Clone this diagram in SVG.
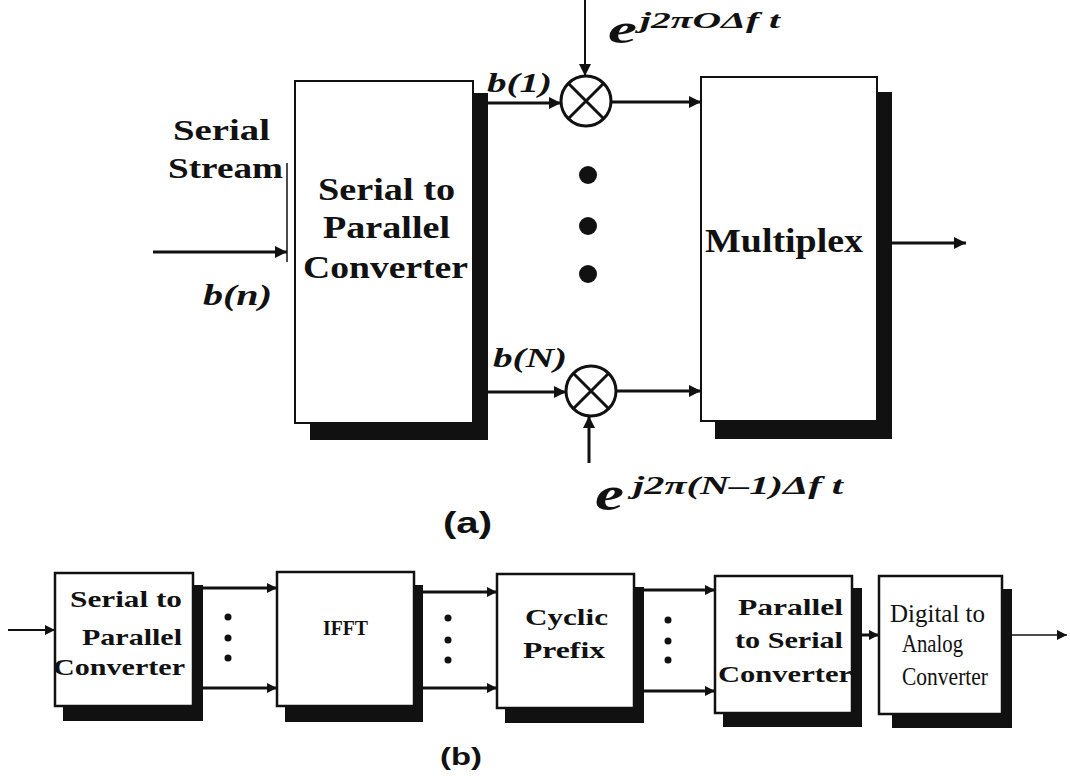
<svg xmlns="http://www.w3.org/2000/svg" width="1070" height="776" viewBox="0 0 1070 776">
<style>
.bx{fill:#fff;stroke:#111;stroke-width:2}
.bx2{fill:#fff;stroke:#111;stroke-width:2.5}
.sh{fill:#111}
.t{font-family:"Liberation Serif","Times New Roman",serif;font-weight:bold;fill:#111}
.tr{font-family:"Liberation Serif","Times New Roman",serif;fill:#111}
.ti{font-family:"Liberation Serif","Times New Roman",serif;font-weight:bold;font-style:italic;fill:#111}
.cap{font-family:"Liberation Sans",Arial,sans-serif;font-weight:bold;fill:#111}
.c{fill:none;stroke:#111;stroke-width:3}
.cm{fill:none;stroke:#111;stroke-width:2}
.mul{fill:#fff;stroke:#111;stroke-width:3}
.dot{fill:#111}
</style>
<defs>
<marker id="ah" viewBox="0 0 10 10" refX="10" refY="5" markerWidth="14" markerHeight="12" markerUnits="userSpaceOnUse" orient="auto"><path d="M0,0 L10,5 L0,10 z" fill="#111"/></marker>
<marker id="ahs" viewBox="0 0 10 10" refX="10" refY="5" markerWidth="11" markerHeight="10" markerUnits="userSpaceOnUse" orient="auto"><path d="M0,0 L10,5 L0,10 z" fill="#111"/></marker>
</defs>
<rect width="1070" height="776" fill="#fff"/>

<!-- (a) -->
<g id="serial-stream-label">
<text class="t" x="173" y="140" font-size="30" textLength="97" lengthAdjust="spacingAndGlyphs">Serial</text>
<text class="t" x="168" y="178" font-size="30" textLength="115" lengthAdjust="spacingAndGlyphs">Stream</text>
<text class="ti" x="203" y="305" font-size="30" textLength="69" lengthAdjust="spacingAndGlyphs">b(n)</text>
</g>

<g id="sp-converter">
<rect class="sh" x="310" y="93" width="178" height="347"/>
<rect class="bx" x="295" y="81" width="178" height="342"/>
<text class="t" x="318" y="200" font-size="32" textLength="137" lengthAdjust="spacingAndGlyphs">Serial to</text>
<text class="t" x="323" y="238" font-size="32" textLength="127" lengthAdjust="spacingAndGlyphs">Parallel</text>
<text class="t" x="303" y="278" font-size="32" textLength="165" lengthAdjust="spacingAndGlyphs">Converter</text>
</g>

<g id="multiplex">
<rect class="sh" x="715" y="92" width="177" height="347"/>
<rect class="bx" x="701" y="77" width="176" height="344"/>
<text class="t" x="705" y="252" font-size="34" textLength="158" lengthAdjust="spacingAndGlyphs">Multiplex</text>
</g>

<g id="mixer-1">
<circle class="mul" cx="586" cy="101" r="25"/>
<path class="c" d="M568,83 L604,119 M604,83 L568,119"/>
<text class="ti" x="487" y="92" font-size="28" textLength="65" lengthAdjust="spacingAndGlyphs">b(1)</text>
<text class="ti" x="608" y="43" font-size="40" textLength="29" lengthAdjust="spacingAndGlyphs">e</text>
<text class="ti" x="640" y="28" font-size="24" textLength="140" lengthAdjust="spacingAndGlyphs">j2πOΔf t</text>
</g>

<g id="mixer-n">
<circle class="mul" cx="591" cy="391" r="25"/>
<path class="c" d="M573,373 L609,409 M609,373 L573,409"/>
<text class="ti" x="493" y="367" font-size="28" textLength="74" lengthAdjust="spacingAndGlyphs">b(N)</text>
<text class="ti" x="595" y="510" font-size="48" textLength="29" lengthAdjust="spacingAndGlyphs">e</text>
<text class="ti" x="633" y="494" font-size="26" textLength="210" lengthAdjust="spacingAndGlyphs">j2π(N–1)Δf t</text>
</g>

<g id="ellipsis-a">
<circle class="dot" cx="588" cy="175" r="9"/>
<circle class="dot" cx="588" cy="226" r="9"/>
<circle class="dot" cx="588" cy="274" r="9"/>
</g>

<text id="label-a" class="cap" x="443" y="533" font-size="30" textLength="49" lengthAdjust="spacingAndGlyphs">(a)</text>

<!-- (b) -->
<g id="b-sp">
<rect class="sh" x="63" y="585" width="140" height="136"/>
<rect class="bx2" x="55" y="573" width="138" height="133"/>
<text class="t" x="70" y="607" font-size="24" textLength="112" lengthAdjust="spacingAndGlyphs">Serial to</text>
<text class="t" x="82" y="645" font-size="24" textLength="100" lengthAdjust="spacingAndGlyphs">Parallel</text>
<text class="t" x="53" y="675" font-size="24" textLength="132" lengthAdjust="spacingAndGlyphs">Converter</text>
</g>
<g id="b-ifft">
<rect class="sh" x="285" y="585" width="138" height="137"/>
<rect class="bx2" x="277" y="572" width="137" height="134"/>
<text class="t" x="323" y="635" font-size="22" textLength="45" lengthAdjust="spacingAndGlyphs">IFFT</text>
</g>
<g id="b-cp">
<rect class="sh" x="505" y="587" width="139" height="136"/>
<rect class="bx2" x="497" y="574" width="137" height="134"/>
<text class="t" x="525" y="625" font-size="24" textLength="83" lengthAdjust="spacingAndGlyphs">Cyclic</text>
<text class="t" x="523" y="658" font-size="24" textLength="82" lengthAdjust="spacingAndGlyphs">Prefix</text>
</g>
<g id="b-ps">
<rect class="sh" x="723" y="588" width="139" height="139"/>
<rect class="bx2" x="715" y="576" width="137" height="137"/>
<text class="t" x="738" y="615" font-size="24" textLength="105" lengthAdjust="spacingAndGlyphs">Parallel</text>
<text class="t" x="735" y="648" font-size="24" textLength="108" lengthAdjust="spacingAndGlyphs">to Serial</text>
<text class="t" x="718" y="682" font-size="24" textLength="134" lengthAdjust="spacingAndGlyphs">Converter</text>
</g>
<g id="b-da">
<rect class="sh" x="892" y="589" width="120" height="139"/>
<rect class="bx2" x="879" y="576" width="123" height="138"/>
<text class="tr" x="890" y="622" font-size="26" textLength="95" lengthAdjust="spacingAndGlyphs">Digital to</text>
<text class="tr" x="902" y="652" font-size="26" textLength="61" lengthAdjust="spacingAndGlyphs">Analog</text>
<text class="tr" x="902" y="685" font-size="26" textLength="86" lengthAdjust="spacingAndGlyphs">Converter</text>
</g>

<g id="ellipsis-b">
<circle class="dot" cx="228" cy="617" r="3.5"/>
<circle class="dot" cx="228" cy="638" r="3.5"/>
<circle class="dot" cx="228" cy="658" r="3.5"/>
<circle class="dot" cx="448" cy="618" r="3.5"/>
<circle class="dot" cx="448" cy="640" r="3.5"/>
<circle class="dot" cx="448" cy="660" r="3.5"/>
<circle class="dot" cx="668" cy="620" r="3.5"/>
<circle class="dot" cx="668" cy="641" r="3.5"/>
<circle class="dot" cx="668" cy="660" r="3.5"/>
</g>

<text id="label-b" class="cap" x="440" y="765" font-size="24" textLength="42" lengthAdjust="spacingAndGlyphs">(b)</text>

<g id="connectors">
<path class="c" d="M153,252 H287" marker-end="url(#ah)"/>
<path d="M287,163 V262" stroke="#111" stroke-width="1.5"/>
<path class="c" d="M488,103 H561" marker-end="url(#ah)"/>
<path class="c" d="M611,102 H701" marker-end="url(#ah)"/>
<path class="cm" d="M585,0 V76" marker-end="url(#ah)"/>
<path class="c" d="M488,392 H566" marker-end="url(#ah)"/>
<path class="c" d="M616,391 H701" marker-end="url(#ah)"/>
<path class="c" d="M589,463 V416" marker-end="url(#ah)"/>
<path class="c" d="M892,243 H966" marker-end="url(#ah)"/>

<path class="cm" d="M8,630 H55" marker-end="url(#ahs)"/>
<path class="c" d="M203,588 H277" marker-end="url(#ahs)"/>
<path class="c" d="M203,688 H277" marker-end="url(#ahs)"/>
<path class="c" d="M423,592 H497" marker-end="url(#ahs)"/>
<path class="c" d="M423,688 H497" marker-end="url(#ahs)"/>
<path class="c" d="M644,590 H715" stroke-width="4" marker-end="url(#ahs)"/>
<path class="c" d="M644,691 H715" stroke-width="4" marker-end="url(#ahs)"/>
<path class="c" d="M862,635 H879" marker-end="url(#ahs)"/>
<path d="M1012,635 H1067" stroke="#111" stroke-width="1.5" marker-end="url(#ahs)"/>
</g>
</svg>
